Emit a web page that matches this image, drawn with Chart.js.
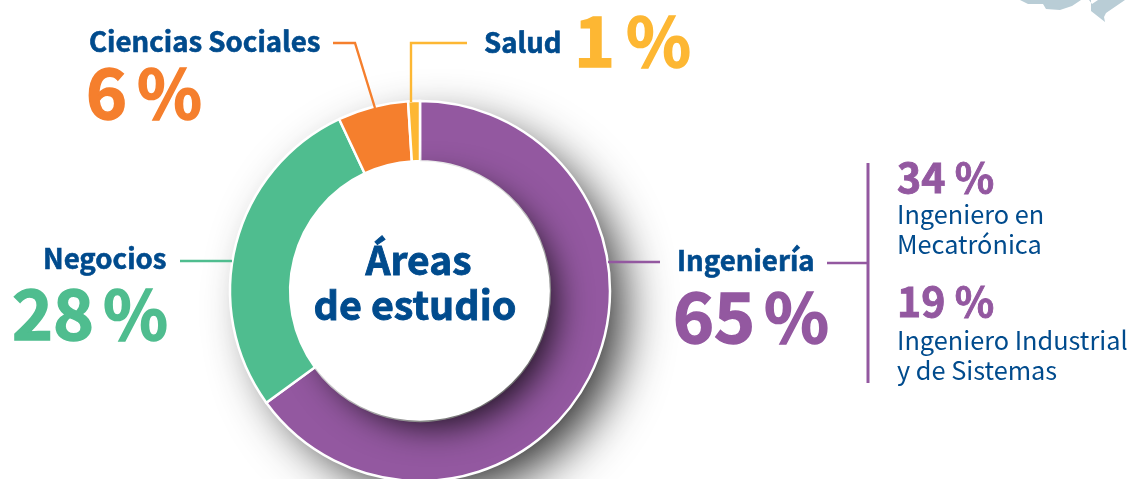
<!DOCTYPE html>
<html lang="es"><head><meta charset="utf-8">
<script src="https://cdn.jsdelivr.net/npm/chart.js@4"></script>
<style>
html,body{margin:0;padding:0;background:#fff;overflow:hidden}
#wrap{position:relative;width:1131px;height:479px;overflow:hidden;background:#fff;font-family:"Noto Sans CJK SC","Noto Sans",sans-serif}
#c{position:absolute;left:0;top:0}
.t{position:absolute;white-space:nowrap;line-height:1;color:#004B8D}
.b{font-weight:700}
</style></head><body>
<div id="wrap"><canvas id="c" width="1131" height="582"></canvas>
<svg width="1131" height="479" style="position:absolute;left:0;top:0"><polygon fill="#B9CDD6" points="1020,0 1028,4 1043,4 1046,9 1060,10 1072,6 1081,0 1089,0 1092,4 1098,0 1116,0 1125,0 1106,13 1104,17 1105,22 1091,11 1091,0"/></svg>
</div>
<script>
const categories=["Ingeniería","Negocios","Ciencias Sociales","Salud"];
const values=[65,28,6,1];
const colors=["#9358A0","#4FBD8F","#F57F2D","#FDB733"];
const centerTitle=["Áreas","de estudio"];
const subValues=[34,19];
const subLabels=[["Ingeniero en","Mecatrónica"],["Ingeniero Industrial","y de Sistemas"]];

const ring={cx:420,cy:291,r:190,hole:129};
const leaders=[
 {color:colors[0],w:2.4,pts:[[608,262],[660,262]]},
 {color:colors[0],w:2.4,pts:[[827,263],[868,263]]},
 {color:colors[0],w:3,pts:[[868,163],[868,383]]},
 {color:colors[1],w:2.4,pts:[[180,261],[232,261]]},
 {color:colors[2],w:2.4,pts:[[333,43],[355,43],[375,108]]},
 {color:colors[3],w:2.4,pts:[[467,43],[411,43],[411,102]]}
];
const shadowPlugin={id:'ringShadow',
 beforeDatasetsDraw(ch){const g=ch.ctx,a=ch.getDatasetMeta(0).data[0];
  g.save();g.shadowColor='rgba(0,0,0,0.85)';g.shadowBlur=50;g.shadowOffsetX=20;g.shadowOffsetY=18;
  g.fillStyle='#fff';g.beginPath();g.arc(a.x,a.y,a.outerRadius-8,0,Math.PI*2);g.fill();g.restore();},
 afterDatasetsDraw(ch){const g=ch.ctx,m=ch.getDatasetMeta(0).data,a=m[0];
  g.save();g.beginPath();g.moveTo(a.x,a.y);g.arc(a.x,a.y,a.outerRadius-2,a.startAngle,a.endAngle-0.01);g.closePath();g.clip();
  g.shadowColor='rgba(0,0,0,0.8)';g.shadowBlur=34;g.shadowOffsetX=13;g.shadowOffsetY=13;
  g.fillStyle='#fff';g.beginPath();g.arc(a.x,a.y,a.innerRadius-7,0,Math.PI*2);g.fill();g.restore();
  g.save();g.fillStyle='#fff';g.beginPath();g.arc(a.x,a.y,a.innerRadius,0,Math.PI*2);g.fill();g.restore();
  g.save();g.lineCap='butt';g.lineJoin='miter';
  leaders.forEach(l=>{g.strokeStyle=l.color;g.lineWidth=l.w;g.beginPath();
    l.pts.forEach((p,i)=>i?g.lineTo(p[0],p[1]):g.moveTo(p[0],p[1]));g.stroke();});
  g.restore();}
};
new Chart(document.getElementById('c'),{type:'doughnut',
 data:{labels:categories,datasets:[{data:values,backgroundColor:colors,borderColor:'#fff',borderWidth:2.5,borderJoinStyle:'miter'}]},
 options:{responsive:false,animation:false,rotation:0,radius:ring.r,cutout:ring.hole,
  layout:{padding:{left:ring.cx-ring.r,right:1131-ring.cx-ring.r,top:ring.cy-ring.r,bottom:582-ring.cy-ring.r}},
  plugins:{legend:{display:false},tooltip:{enabled:false}}},
 plugins:[shadowPlugin]});

const wrap=document.getElementById('wrap');
function put(txt,x,base,size,color,bold,anchor){const s=document.createElement('div');s.className='t'+(bold?' b':'');
 s.textContent=txt;s.style.fontSize=size+'px';s.style.color=color||'#004B8D';
 s.style.top=(base-size*0.95)+'px';
 if(bold)s.style.webkitTextStroke=(size*0.022).toFixed(2)+'px '+(color||'#004B8D');
 if(anchor==='c'){s.style.left=x+'px';s.style.transform='translateX(-50%)';}else s.style.left=x+'px';
 wrap.appendChild(s);}
const navy='#004B8D';
put(centerTitle[0],418.5,276,39,navy,true,'c');
put(centerTitle[1],415,321,39.5,navy,true,'c');
put(categories[0],677,272,27.6,navy,true);
put(categories[1],43,270,27.6,navy,true);
put(categories[2],89,53.5,27.6,navy,true);
put(categories[3],484,54,27.6,navy,true);
function pct(v,x,px,base,size,color){put(String(v),x,base,size,color,true);put('%',px,base,size-2,color,true);}
pct(values[0],673,764,344,69.5,colors[0]);
pct(values[1],12,103,341,69.5,colors[1]);
pct(values[2],86,137,120,69.5,colors[2]);
pct(values[3],574,626,68,69.5,colors[3]);
put(subValues[0]+' %',897,194,41,colors[0],true);
put(subLabels[0][0],897,225,25.3,navy,false);
put(subLabels[0][1],897,255,25.3,navy,false);
put(subValues[1]+' %',897,318,41,colors[0],true);
put(subLabels[1][0],897,351,25.3,navy,false);
put(subLabels[1][1],897,381,25.3,navy,false);
</script></body></html>
